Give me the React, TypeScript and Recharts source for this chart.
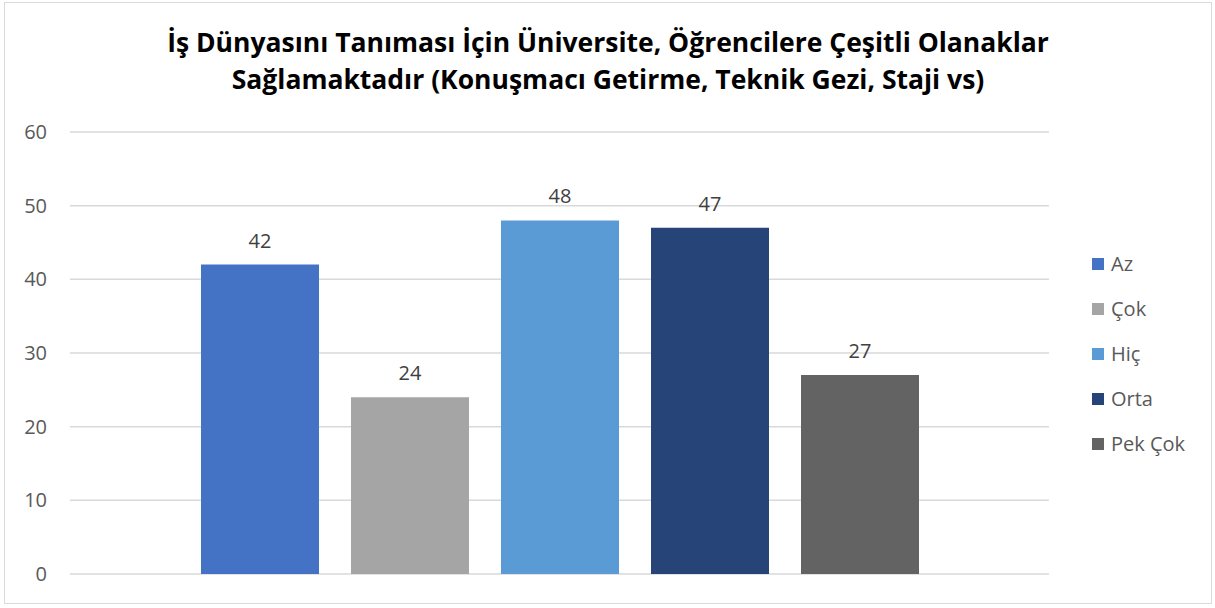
import React from "react";
import { BarChart, Bar, XAxis, YAxis, CartesianGrid, LabelList } from "recharts";

const seriesNames = ["Az", "Çok", "Hiç", "Orta", "Pek Çok"];
const seriesValues = [42, 24, 48, 47, 27];
const seriesColors = ["#4472c4", "#a5a5a5", "#5b9bd5", "#264478", "#636363"];
const yTicks = [0, 10, 20, 30, 40, 50, 60];

const titleLines = [
  "İş Dünyasını Tanıması İçin Üniversite, Öğrencilere Çeşitli Olanaklar",
  "Sağlamaktadır (Konuşmacı Getirme, Teknik Gezi, Staji vs)",
];

// one category row, each series is its own bar
const row: Record<string, number | string> = { name: "" };
seriesNames.forEach((n, i) => {
  row[n] = seriesValues[i];
});
const data = [row];

const font = "'Open Sans', sans-serif";

export default function App() {
  return (
    <div
      style={{
        position: "absolute",
        left: 4,
        top: 2,
        width: 1206,
        height: 600,
        border: "1px solid #d9d9d9",
        background: "#fff",
        fontFamily: font,
      }}
    >
      <div
        style={{
          position: "absolute",
          left: 0,
          top: 21,
          width: "100%",
          textAlign: "center",
          fontFamily: font,
          fontWeight: 700,
          fontSize: 26.5,
          lineHeight: "37px",
          color: "#000",
        }}
      >
        {titleLines.map((t) => (
          <div key={t}>{t}</div>
        ))}
      </div>
      <BarChart
        width={1206}
        height={600}
        data={data}
        margin={{ top: 129, right: 162, bottom: 29, left: 0 }}
        barGap={32}
        barSize={118}
      >
        <CartesianGrid vertical={false} stroke="#d9d9d9" strokeWidth={1.5} />
        <XAxis dataKey="name" hide />
        <YAxis
          width={65}
          domain={[0, 60]}
          ticks={yTicks}
          axisLine={false}
          tickLine={false}
          tickMargin={17}
          tick={{ fill: "#595959", fontSize: 20, fontFamily: font }}
        />
        {seriesNames.map((n, i) => (
          <Bar key={n} dataKey={n} fill={seriesColors[i]} isAnimationActive={false}>
            <LabelList
              dataKey={n}
              position="top"
              offset={17}
              style={{ fill: "#404040", fontSize: 20, fontFamily: font }}
            />
          </Bar>
        ))}
      </BarChart>
      <div style={{ position: "absolute", left: 1087, top: 238 }}>
        {seriesNames.map((n, i) => (
          <div
            key={n}
            style={{
              display: "flex",
              alignItems: "center",
              height: 45,
              fontSize: 20,
              color: "#595959",
            }}
          >
            <span
              style={{
                width: 12,
                height: 12,
                background: seriesColors[i],
                marginRight: 7,
                display: "inline-block",
              }}
            />
            {n}
          </div>
        ))}
      </div>
    </div>
  );
}
